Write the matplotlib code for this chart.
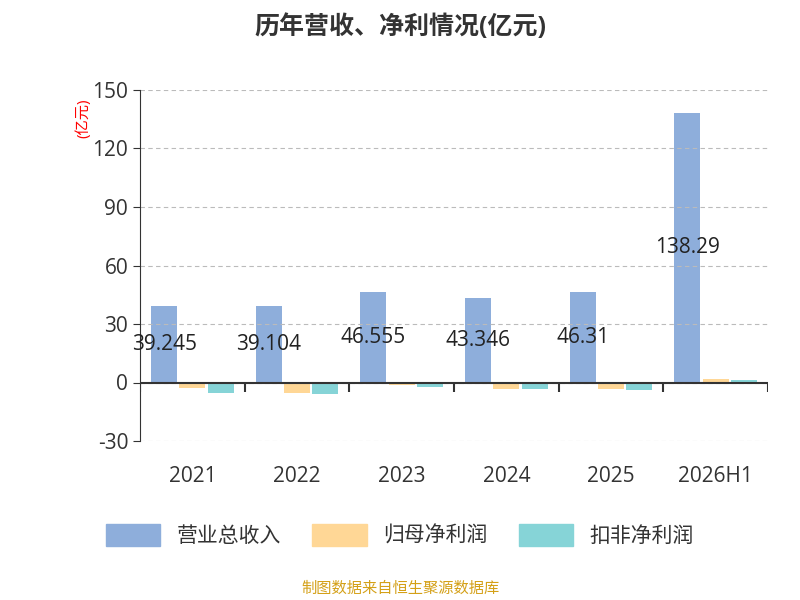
import matplotlib
matplotlib.use('Agg')
import matplotlib.pyplot as plt
import numpy as np

plt.rcParams['font.family'] = ['Open Sans', 'Noto Sans CJK SC', 'DejaVu Sans']
plt.rcParams['axes.unicode_minus'] = False

years = ['2021', '2022', '2023', '2024', '2025', '2026H1']
revenue = [39.245, 39.104, 46.555, 43.346, 46.31, 138.29]
net_profit = [-2.6, -5.5, -1.2, -3.1, -3.1, 1.9]
deducted = [-5.5, -6.0, -2.2, -3.3, -3.6, 1.5]
rev_labels = ['39.245', '39.104', '46.555', '43.346', '46.31', '138.29']

fig = plt.figure(figsize=(8, 6), dpi=100)
ax = fig.add_axes([0.175, 0.265, 0.785, 0.585])
x = np.arange(len(years))
w = 0.25
ax.bar(x - w - 0.02, revenue, w, color='#8eaedb')
ax.bar(x, net_profit, w, color='#ffd796')
ax.bar(x + w + 0.02, deducted, w, color='#86d4d7')
for xi, v, t in zip(x, revenue, rev_labels):
    ax.text(xi - w - 0.02, v / 2, t, ha='center', va='center', fontsize=15, color='#222222')

ax.set_xlim(-0.5, 5.5)
ax.set_ylim(-30, 150)
ax.set_yticks([-30, 0, 30, 60, 90, 120, 150])
ax.set_xticks([])
ax.vlines(np.arange(-0.5, 6, 1), -5, 0, color='#333333', lw=1.5)
for xi, yl in zip(x, years):
    ax.text(xi, -0.1, yl, transform=ax.get_xaxis_transform(), ha='center', va='center', fontsize=15, color='#333333')
ax.tick_params(axis='y', labelsize=15, colors='#333333', length=5)
ax.grid(axis='y', linestyle=(0, (4, 3)), color='#bbbbbb')
for s in ['top', 'right', 'bottom']:
    ax.spines[s].set_visible(False)
ax.spines['left'].set_color('#333333')
ax.axhline(0, color='#333333', lw=1.5)
ax.text(-0.09, 0.92, '(亿元)', transform=ax.transAxes, rotation=90, color='red', fontsize=11, ha='center', va='center')

fig.text(0.5, 0.955, '历年营收、净利情况(亿元)', ha='center', va='center', fontsize=18, fontweight='bold', color='#333333')
from matplotlib.patches import FancyBboxPatch, Patch
handles = [Patch(color=c) for c in ['#8eaedb', '#ffd796', '#86d4d7']]
fig.legend(handles, ['营业总收入', '归母净利润', '扣非净利润'], loc='center', bbox_to_anchor=(0.5, 0.108), ncol=3, frameon=False, fontsize=15, handlelength=2.6, handleheight=1.3, columnspacing=1.5, labelcolor='#333333')
fig.text(0.5, 0.018, '制图数据来自恒生聚源数据库', ha='center', va='center', fontsize=11, color='#d4a017')
fig.savefig('out.png')
